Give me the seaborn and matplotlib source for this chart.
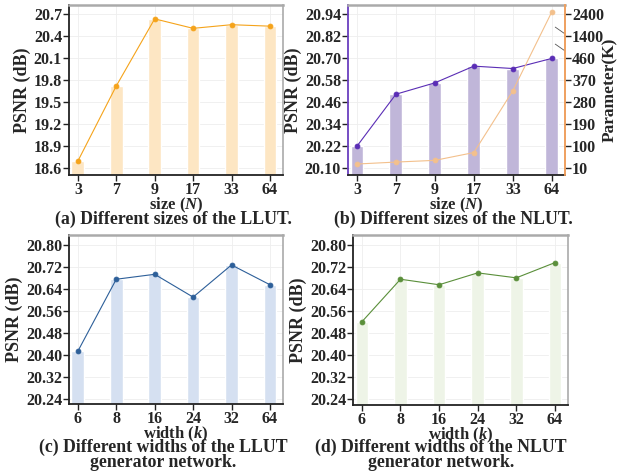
import matplotlib
matplotlib.use("Agg")
import matplotlib.pyplot as plt
import seaborn as sns
import pandas as pd
import numpy as np

# data
llut_sizes = ["3", "7", "9", "17", "33", "64"]
llut_psnr = [18.69, 19.72, 20.64, 20.51, 20.56, 20.54]

nlut_sizes = ["3", "7", "9", "17", "33", "64"]
nlut_psnr = [20.221, 20.504, 20.566, 20.657, 20.644, 20.699]
nlut_params = [25, 33, 40, 72, 325, 2490]

llut_widths = ["6", "8", "16", "24", "32", "64"]
llut_w_psnr = [20.412, 20.674, 20.692, 20.609, 20.726, 20.654]

nlut_widths = ["6", "8", "16", "24", "32", "64"]
nlut_w_psnr = [20.521, 20.675, 20.655, 20.698, 20.680, 20.735]

param_ticks = [10, 100, 190, 280, 370, 460, 1400, 2400]

sns.set_theme(style="white")
plt.rcParams["font.family"] = ["Liberation Serif", "DejaVu Serif"]
plt.rcParams["font.weight"] = "bold"
plt.rcParams["mathtext.fontset"] = "custom"
plt.rcParams["mathtext.rm"] = "Liberation Serif"
plt.rcParams["mathtext.it"] = "Liberation Serif:italic"

W, H = 618, 472
fig = plt.figure(figsize=(W / 100, H / 100), dpi=100)


def box(x0, y0, x1, y1):
    return [x0 / W, 1 - y1 / H, (x1 - x0) / W, (y1 - y0) / H]


def panel(rect, cats, vals, bar_c, line_c, ylim, yticks, fmt, xlabel, left_c="#222222"):
    ax = fig.add_axes(rect)
    df = pd.DataFrame({"x": cats, "y": vals})
    sns.barplot(data=df, x="x", y="y", order=cats, color=bar_c, saturation=1,
                width=0.33, ax=ax, zorder=2)
    sns.pointplot(data=df, x="x", y="y", order=cats, color=line_c, ax=ax,
                  markersize=3.5, linewidth=0.8, zorder=4)
    ax.set_ylim(*ylim)
    ax.set_xlim(-0.23, 5.34)
    ax.set_yticks(yticks)
    ax.set_yticklabels([fmt.format(t) for t in yticks])
    ax.grid(True, color="#eeeeee", linewidth=0.6, zorder=0)
    ax.set_axisbelow(True)
    ax.tick_params(axis="both", direction="out", length=4, width=1, labelsize=11.5,
                   pad=1, left=True, bottom=True, color="#222222")
    for lab in ax.get_xticklabels() + ax.get_yticklabels():
        lab.set_fontweight("bold")
    ax.set_ylabel("PSNR (dB)", fontsize=13, fontweight="bold", labelpad=2)
    ax.set_xlabel(xlabel, fontsize=12, fontweight="bold", labelpad=-1.5)
    ax.spines["top"].set_color("#aaaaaa")
    ax.spines["top"].set_linewidth(1.8)
    ax.spines["right"].set_color("#aaaaaa")
    ax.spines["right"].set_linewidth(1.2)
    ax.spines["left"].set_color(left_c)
    ax.spines["left"].set_linewidth(1.3)
    ax.spines["bottom"].set_color("#222222")
    ax.spines["bottom"].set_linewidth(1.3)
    return ax


# (a)
ax_a = panel(box(69, 5, 283, 175), llut_sizes, llut_psnr, "#fde6c3", "#f5a31a",
             (18.5, 20.83), [18.6, 18.9, 19.2, 19.5, 19.8, 20.1, 20.4, 20.7], "{:.1f}",
             "size ($N$)")

# (b)
ax_b = panel(box(348, 5, 565, 175), nlut_sizes, nlut_psnr, "#c0b6d9", "#5a2db5",
             (20.064, 20.99), [20.10, 20.22, 20.34, 20.46, 20.58, 20.70, 20.82, 20.94],
             "{:.2f}", "size ($N$)", left_c="#6a3fbf")
ax_b2 = ax_b.twinx()

xp = [-1000, 10, 460, 1400, 2400, 10000]
fp = [-1000, 10, 460, 550, 640, 640 + 7600 * 0.09]


def fwd(v):
    return np.interp(v, xp, fp)


def inv(v):
    return np.interp(v, fp, xp)


ax_b2.set_yscale("function", functions=(fwd, inv))
dfp = pd.DataFrame({"x": nlut_sizes, "y": nlut_params})
sns.pointplot(data=dfp, x="x", y="y", order=nlut_sizes, color="#f3c08c", ax=ax_b2,
              markersize=3.5, linewidth=0.8)
ax_b2.set_ylim(-20, 2809)
ax_b2.set_xlim(-0.23, 5.34)
ax_b2.set_yticks(param_ticks)
ax_b2.set_yticklabels([str(t) for t in param_ticks])
ax_b2.yaxis.set_minor_locator(matplotlib.ticker.NullLocator())
ax_b2.tick_params(axis="y", direction="out", length=4, width=1, labelsize=11.5, pad=1,
                  right=True, color="#222222")
for lab in ax_b2.get_yticklabels():
    lab.set_fontweight("bold")
ax_b2.set_ylabel("Parameter(K)", fontsize=12.5, fontweight="bold")
ax_b2.yaxis.set_label_coords(1.0 + (602 - 565) / 217, 0.5)
ax_b2.spines["right"].set_color("#f5a05a")
ax_b2.spines["right"].set_linewidth(1.3)
ax_b2.spines["top"].set_visible(False)
ax_b2.spines["left"].set_visible(False)
ax_b2.spines["bottom"].set_visible(False)
ax_b2.grid(False)
# axis break marks
for y0 in (0.83, 0.73):
    ax_b2.plot([0.955, 1.0], [y0 + 0.04, y0], transform=ax_b2.transAxes, color="#555555",
               linewidth=0.6, clip_on=False)

# (c)
panel(box(69, 235, 283, 404), llut_widths, llut_w_psnr, "#d5e0f1", "#2d5f99",
      (20.22, 20.835), [20.24, 20.32, 20.40, 20.48, 20.56, 20.64, 20.72, 20.80], "{:.2f}",
      "width ($k$)")

# (d)
panel(box(353, 235, 568, 405), nlut_widths, nlut_w_psnr, "#eef4e7", "#5a8f3a",
      (20.22, 20.835), [20.24, 20.32, 20.40, 20.48, 20.56, 20.64, 20.72, 20.80], "{:.2f}",
      "width ($k$)")

cap = dict(fontsize=12.8, fontweight="bold", ha="center", va="center")
fig.text(173 / W, 1 - 219 / H, "(a) Different sizes of the LLUT.", **cap)
fig.text(453 / W, 1 - 219 / H, "(b) Different sizes of the NLUT.", **cap)
fig.text(163 / W, 1 - 455 / H, "(c) Different widths of the LLUT\ngenerator network.",
         linespacing=0.82, multialignment="center", **cap)
fig.text(441 / W, 1 - 455 / H, "(d) Different widths of the NLUT\ngenerator network.",
         linespacing=0.82, multialignment="center", **cap)

fig.savefig("out.png", dpi=100)
